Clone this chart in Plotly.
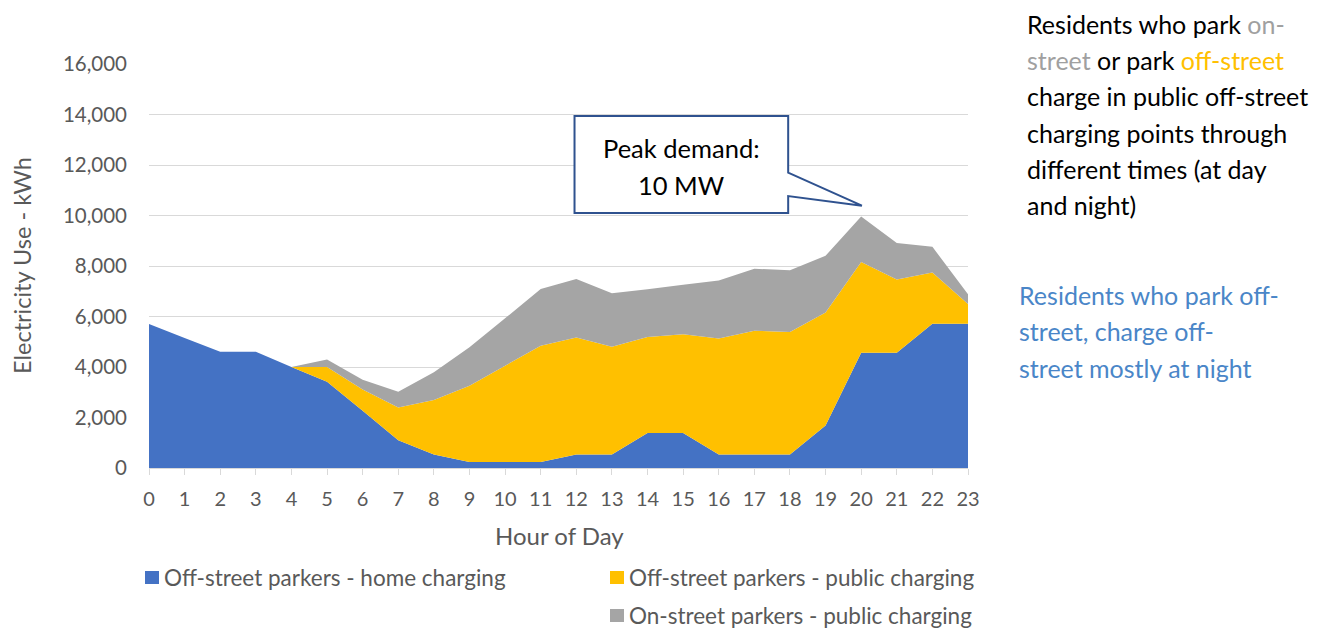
import plotly.graph_objects as go

hours = list(range(24))
home_offstreet = [5700, 5150, 4600, 4600, 4000, 3420, 2270, 1100, 530, 240, 240, 240,
                  530, 530, 1390, 1390, 530, 530, 530, 1680, 4560, 4560, 5710, 5710]
public_offstreet = [0, 0, 0, 0, 0, 580, 840, 1300, 2160, 3020, 3810, 4600,
                    4640, 4270, 3800, 3910, 4600, 4910, 4860, 4480, 3600, 2910, 2030, 790]
public_onstreet = [0, 0, 0, 0, 0, 300, 390, 620, 1100, 1520, 1880, 2250,
                   2320, 2120, 1890, 1960, 2300, 2450, 2440, 2250, 1800, 1440, 1020, 380]
series_names = ["Off-street parkers - home charging",
                "Off-street parkers - public charging",
                "On-street parkers - public charging"]
colors = ["#4472C4", "#FFC000", "#A5A5A5"]
y_ticks = list(range(0, 16001, 2000))

FONT = "Lato"
GREY_TXT = "#595959"

fig = go.Figure()
for name, vals, col in zip(series_names, [home_offstreet, public_offstreet, public_onstreet], colors):
    fig.add_trace(go.Scatter(x=hours, y=vals, name=name, stackgroup="one", mode="none",
                             fillcolor=col, line=dict(width=0), showlegend=False))

OFF = 8  # page body margin
W, H = 1333 - OFF, 630 - OFF
L, R, T, B = 149 - OFF, 968 - OFF, 64 - OFF, 468 - OFF


def px2paper_x(px):  # px in page coordinates
    return (px - OFF - L) / (R - L)


def px2paper_y(py):
    return (B - (py - OFF)) / (B - T)


def py2data(py):
    return (468 - py) / (404 / 16000)


fig.update_layout(
    width=W, height=H,
    margin=dict(l=L, r=W - R, t=T, b=H - B, autoexpand=False),
    plot_bgcolor="white", paper_bgcolor="white",
    font=dict(family=FONT, color=GREY_TXT, size=20),
    showlegend=False,
)
fig.update_xaxes(range=[0, 23], tickmode="array", tickvals=hours, ticktext=[str(h) for h in hours],
                 showgrid=False, showline=True, linecolor="#D9D9D9", linewidth=1,
                 ticks="outside", ticklen=6, tickcolor="#D9D9D9", ticklabelstandoff=7,
                 tickfont=dict(size=20, color=GREY_TXT), zeroline=False, fixedrange=True)
fig.update_yaxes(range=[0, 16000], tickvals=y_ticks, ticktext=[f"{v:,}" for v in y_ticks],
                 showgrid=True, gridcolor="#D9D9D9", gridwidth=1, zeroline=False,
                 showline=False, ticks="", ticklabelstandoff=21,
                 tickfont=dict(size=20.5, color=GREY_TXT), fixedrange=True)

# axis titles
fig.add_annotation(text="Electricity Use - kWh", xref="paper", yref="paper",
                   x=px2paper_x(22), y=px2paper_y(266), textangle=-90, showarrow=False,
                   xanchor="center", yanchor="middle", font=dict(size=23.5, color=GREY_TXT, family=FONT))
fig.add_annotation(text="Hour of Day", xref="paper", yref="paper",
                   x=px2paper_x(559), y=px2paper_y(535), showarrow=False,
                   xanchor="center", yanchor="middle", font=dict(size=24, color=GREY_TXT, family=FONT))

# legend (manual)
legend_pos = [(145, 577.5), (610, 577.5), (610, 615.5)]
for (lx, ly), name, col in zip(legend_pos, series_names, colors):
    fig.add_shape(type="rect", xref="paper", yref="paper",
                  x0=px2paper_x(lx), x1=px2paper_x(lx + 14),
                  y0=px2paper_y(ly + 6.5), y1=px2paper_y(ly - 6.5),
                  fillcolor=col, line=dict(width=0))
    fig.add_annotation(text=name, xref="paper", yref="paper",
                       x=px2paper_x(lx + 17), y=px2paper_y(ly), showarrow=False,
                       xanchor="left", yanchor="middle", font=dict(size=22.5, color=GREY_TXT, family=FONT))

# callout box
bx0, bx1, by0, by1 = 11.95, 17.95, 10100, 13940
ptr_hi, ptr_lo = 11700, 10770
tip_x, tip_y = 20.02, 10390
path = (f"M {bx0},{by1} L {bx1},{by1} L {bx1},{ptr_hi} L {tip_x},{tip_y} "
        f"L {bx1},{ptr_lo} L {bx1},{by0} L {bx0},{by0} Z")
fig.add_shape(type="path", path=path, xref="x", yref="y",
              fillcolor="white", line=dict(color="#2F528F", width=2))
fig.add_annotation(text="Peak demand:", xref="x", yref="y", x=(bx0 + bx1) / 2,
                   y=py2data(148), showarrow=False, xanchor="center", yanchor="middle",
                   font=dict(size=25.5, color="black", family=FONT))
fig.add_annotation(text="10 MW", xref="x", yref="y", x=(bx0 + bx1) / 2,
                   y=py2data(185), showarrow=False, xanchor="center", yanchor="middle",
                   font=dict(size=25.5, color="black", family=FONT))

# right-side text blocks
GRAYW = "#A0A0A0"
YEL = "#FFC000"
BLUE = "#4A86C8"
black_lines = [
    f"Residents who park <span style='color:{GRAYW}'>on-</span>",
    f"<span style='color:{GRAYW}'>street</span> or park <span style='color:{YEL}'>off-street</span>",
    "charge in public off-street",
    "charging points through",
    "different times (at day",
    "and night)",
]
for i, line in enumerate(black_lines):
    fig.add_annotation(text=line, xref="paper", yref="paper", x=px2paper_x(1026),
                       y=px2paper_y(24 + i * 36.2), showarrow=False, xanchor="left", yanchor="middle",
                       borderpad=0, font=dict(size=25, color="black", family=FONT))
blue_lines = ["Residents who park off-", "street, charge off-", "street mostly at night"]
for i, line in enumerate(blue_lines):
    fig.add_annotation(text=line, xref="paper", yref="paper", x=px2paper_x(1017),
                       y=px2paper_y(295 + i * 36.3), showarrow=False, xanchor="left", yanchor="middle",
                       font=dict(size=25, color=BLUE, family=FONT))

fig.write_html("out.html")
